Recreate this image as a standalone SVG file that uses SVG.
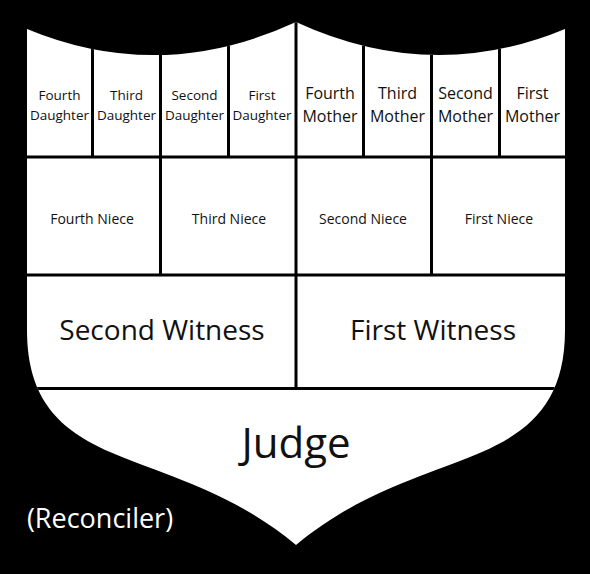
<svg xmlns="http://www.w3.org/2000/svg" width="590" height="574" viewBox="0 0 590 574">
<defs>
<style>
.t{font-family:"Open Sans","DejaVu Sans",sans-serif;fill:#111;text-anchor:middle}
.d{font-size:13.5px}
.m{font-size:16px}
.n{font-size:14px}
.w{font-size:28px}
.j{font-size:42px}
.g{stroke:#000;stroke-width:3;fill:none}
</style>
<clipPath id="shieldClip">
<path id="shieldPath" d="M27,29 Q160.5,84.5 296,22 Q431.5,84.5 565,29 L565,330 C565,400 532,430 482,452 C432,474 362,490 296,545 C230,490 160,474 110,452 C60,430 27,400 27,330 Z"/>
</clipPath>
</defs>
<rect width="590" height="574" fill="#000"/>
<g id="shield">
<path d="M27,29 Q160.5,84.5 296,22 Q431.5,84.5 565,29 L565,330 C565,400 532,430 482,452 C432,474 362,490 296,545 C230,490 160,474 110,452 C60,430 27,400 27,330 Z" fill="#fff"/>
</g>
<g id="grid" clip-path="url(#shieldClip)" class="g">
<line x1="0" y1="157" x2="590" y2="157"/>
<line x1="0" y1="275" x2="590" y2="275"/>
<line x1="0" y1="388.5" x2="590" y2="388.5"/>
<line x1="92.5" y1="0" x2="92.5" y2="157"/>
<line x1="160.5" y1="0" x2="160.5" y2="275"/>
<line x1="228.5" y1="0" x2="228.5" y2="157"/>
<line x1="296" y1="0" x2="296" y2="388.5"/>
<line x1="363.5" y1="0" x2="363.5" y2="157"/>
<line x1="431.5" y1="0" x2="431.5" y2="275"/>
<line x1="499.5" y1="0" x2="499.5" y2="157"/>
</g>
<g id="fourth-daughter"><text class="t d" x="59.5" y="100">Fourth</text><text class="t d" x="59.5" y="120">Daughter</text></g>
<g id="third-daughter"><text class="t d" x="126.5" y="100">Third</text><text class="t d" x="126.5" y="120">Daughter</text></g>
<g id="second-daughter"><text class="t d" x="194.5" y="100">Second</text><text class="t d" x="194.5" y="120">Daughter</text></g>
<g id="first-daughter"><text class="t d" x="262" y="100">First</text><text class="t d" x="262" y="120">Daughter</text></g>
<g id="fourth-mother"><text class="t m" x="330" y="99">Fourth</text><text class="t m" x="330" y="122">Mother</text></g>
<g id="third-mother"><text class="t m" x="397.5" y="99">Third</text><text class="t m" x="397.5" y="122">Mother</text></g>
<g id="second-mother"><text class="t m" x="465.5" y="99">Second</text><text class="t m" x="465.5" y="122">Mother</text></g>
<g id="first-mother"><text class="t m" x="532.5" y="99">First</text><text class="t m" x="532.5" y="122">Mother</text></g>
<g id="fourth-niece"><text class="t n" x="92" y="224">Fourth Niece</text></g>
<g id="third-niece"><text class="t n" x="229" y="224">Third Niece</text></g>
<g id="second-niece"><text class="t n" x="363" y="224">Second Niece</text></g>
<g id="first-niece"><text class="t n" x="499" y="224">First Niece</text></g>
<g id="second-witness"><text class="t w" x="162" y="340">Second Witness</text></g>
<g id="first-witness"><text class="t w" x="433" y="340">First Witness</text></g>
<g id="judge"><text class="t j" x="296" y="458">Judge</text></g>
<g id="reconciler"><text class="t" x="100" y="528" style="fill:#fff;font-size:27px">(Reconciler)</text></g>
</svg>
